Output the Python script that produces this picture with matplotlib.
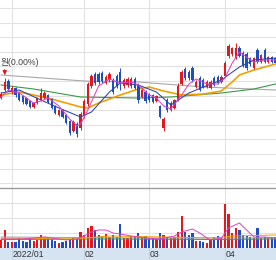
import numpy as np
import matplotlib.pyplot as plt

plt.rcParams['font.family'] = ['Liberation Sans Narrow', 'Liberation Sans', 'Noto Sans CJK KR']

# daily candles, 2021-12-28 .. 2022-04-21 (index = trading day)
opens = [47100, 47500, 47950, 47400, 47600, 47350, 47200, 47100, 46950, 46650,
         46850, 47000, 47100, 47250, 47050, 46700, 46250, 46500, 46250, 45950,
         45450, 45800, 45600, 46200, 46800, 47700, 48300, 48300, 48350, 47850,
         48000, 48000, 48200, 48400, 47700, 47750, 47700, 48050, 47750, 47150,
         47400, 47250, 47250, 46950, 46700, 45600, 47000, 46500, 46600, 47000,
         47800, 48550, 48400, 48600, 47650, 48100, 48000, 47650, 47600, 48100,
         48150, 47900, 48200, 49200, 49300, 49100, 49600, 49350, 49300, 49100,
         48600, 49500, 48900, 49500, 48900, 49150, 49100]
closes = [47300, 47900, 47550, 47600, 47250, 47000, 46900, 46800, 46650, 46850,
          47100, 47350, 47350, 46900, 46600, 46350, 46500, 46150, 45850, 45350,
          45900, 45300, 46300, 46950, 47800, 48200, 47850, 47900, 47950, 48150,
          48300, 47400, 47700, 47800, 48000, 48050, 48050, 47600, 47000, 47500,
          46950, 47000, 46900, 47200, 46150, 46050, 46500, 46850, 47000, 47700,
          48400, 48100, 48100, 48000, 47900, 47500, 47650, 47900, 47900, 47750,
          47850, 48150, 48850, 49700, 49600, 49600, 49200, 48750, 48600, 48800,
          49100, 48900, 49250, 48900, 49150, 48900, 48850]
highs = [47400, 48100, 48050, 47700, 47650, 47400, 47250, 47150, 47000, 46900,
         47150, 47600, 47450, 47300, 47100, 46750, 46550, 46550, 46300, 46000,
         46000, 45900, 46400, 47050, 47900, 48300, 48400, 48400, 48450, 48250,
         48400, 48100, 48300, 48600, 48100, 48150, 48150, 48150, 47850, 47600,
         47500, 47350, 47300, 47250, 46750, 46150, 47100, 46950, 47050, 47850,
         48500, 48650, 48500, 48700, 48000, 48200, 48100, 48000, 48000, 48200,
         48250, 48250, 48950, 49800, 49650, 49850, 49700, 49450, 49400, 49150,
         49150, 49600, 49300, 49600, 49200, 49200, 49150]
lows = [47050, 47400, 47450, 47300, 47150, 46950, 46800, 46750, 46600, 46600,
        46800, 46950, 47050, 46850, 46550, 46300, 46200, 46100, 45800, 45250,
        45400, 45150, 45500, 46100, 46700, 47600, 47750, 47800, 47850, 47800,
        47900, 47300, 47600, 47500, 47600, 47650, 47600, 47550, 46850, 47100,
        46850, 46900, 46850, 46900, 46100, 45450, 46400, 46450, 46550, 46950,
        47750, 48000, 48000, 47900, 47600, 47450, 47600, 47600, 47550, 47700,
        47800, 47850, 48150, 49100, 49200, 49050, 49150, 48650, 48500, 48700,
        48550, 48850, 48850, 48850, 48850, 48850, 48800]
volumes = [80000, 180000, 60000, 60000, 60000, 100000, 70000, 60000, 90000, 70000,
           80000, 130000, 100000, 100000, 90000, 70000, 50000, 60000, 70000, 90000,
           100000, 90000, 160000, 130000, 200000, 220000, 180000, 130000, 120000, 140000,
           110000, 130000, 110000, 240000, 100000, 100000, 120000, 110000, 150000, 110000,
           120000, 100000, 100000, 90000, 150000, 130000, 110000, 100000, 110000, 160000,
           320000, 160000, 130000, 150000, 70000, 70000, 60000, 50000, 80000, 110000,
           120000, 100000, 440000, 340000, 150000, 200000, 180000, 130000, 120000, 110000,
           100000, 200000, 100000, 110000, 100000, 100000, 110000]

# moving average lines: (day index, value)
ma5_idx = [0, 2, 5, 9, 11, 13, 16, 19, 21, 22, 24, 27, 30, 33, 36, 38, 41, 43, 45, 47,
           50, 52, 54, 57, 60, 62, 64, 66, 68, 70, 73, 76]
ma5 = [47150, 47500, 47350, 46850, 46950, 47100, 46700, 46050, 45700, 45800, 46500,
       47700, 48050, 47850, 47900, 47750, 47250, 47100, 46700, 46550, 47250, 47800,
       48050, 47800, 47800, 48100, 48850, 49400, 49150, 48900, 49000, 49000]
ma20_idx = [0, 5, 11, 16, 22, 25, 30, 33, 38, 43, 47, 52, 56, 61, 66, 70, 76]
ma20 = [47350, 47500, 47000, 46600, 46150, 46400, 47400, 47850, 47750, 47400, 46750,
        47350, 47650, 48000, 48650, 49000, 49100]
ma60_idx = [0, 5, 13, 22, 24, 27, 33, 38, 41, 45, 50, 56, 61, 64, 66, 70, 76]
ma60 = [47250, 47400, 47100, 46650, 46600, 46850, 47250, 47550, 47650, 47450, 47250,
        47300, 47450, 47900, 48250, 48500, 48800]
ma120_idx = [0, 9, 22, 38, 47, 61, 70, 76]
ma120 = [47750, 47550, 47150, 47100, 47150, 47350, 47550, 47800]
ma240_idx = [0, 23, 38, 56, 76]
ma240 = [48250, 47950, 47900, 47650, 47500]

vma5_idx = [0, 6, 12, 18, 21, 23, 25, 27, 29, 31, 33, 36, 40, 44, 48, 50, 53, 55, 57,
            58, 61, 63, 66, 68, 70, 73, 76]
vma5 = [90000, 90000, 110000, 80000, 90000, 120000, 160000, 180000, 180000, 150000,
        140000, 120000, 100000, 90000, 120000, 160000, 190000, 150000, 100000, 80000,
        100000, 200000, 250000, 180000, 110000, 110000, 100000]
vma20_idx = [0, 20, 30, 45, 60, 64, 76]
vma20 = [100000, 90000, 120000, 110000, 100000, 120000, 130000]
vma60_idx = [0, 30, 60, 76]
vma60 = [85000, 90000, 85000, 90000]
vma120_idx = [0, 40, 76]
vma120 = [110000, 100000, 100000]

month_idx = [3, 23, 41, 62]
month_labels = ['2022/01', '02', '03', '04']
high_mark = 1
high_text = '원(0.00%)'

UP = '#e3171d'
DOWN = '#1f4ec4'
GRID = '#e2e2e2'

x = np.arange(len(opens))
opens = np.array(opens)
closes = np.array(closes)
up = closes >= opens
colors = np.where(up, UP, DOWN)

fig = plt.figure(figsize=(2.76, 2.6), dpi=100)
ax = fig.add_axes([0, 0.2769, 1, 0.7231])
axv = fig.add_axes([0, 0.04615, 1, 0.2308])
axb = fig.add_axes([0, 0, 1, 0.04615])

xlim = (-0.32, 76.13)

# price panel
ax.set_xlim(*xlim)
ax.set_ylim(42600, 52000)
for g in np.arange(51600, 42600, -730):
    ax.axhline(g, color=GRID, lw=0.8, zorder=0)
for m in month_idx:
    ax.axvline(m, color=GRID, lw=0.8, zorder=0)

ax.plot(ma240_idx, ma240, color='#a8a8a8', lw=0.8, zorder=1)
ax.plot(ma120_idx, ma120, color='#3a9a48', lw=0.8, zorder=1)
ax.plot(ma60_idx, ma60, color='#f0a000', lw=1.2, zorder=1)

ax.vlines(x, lows, highs, colors=colors, lw=0.7, zorder=2)
ax.bar(x, closes - opens, bottom=opens, width=0.65, color=colors, zorder=2)

ax.plot(ma20_idx, ma20, color='#2a46a8', lw=0.75, zorder=3)
ax.plot(ma5_idx, ma5, color='#e040c8', lw=0.75, zorder=3)

ax.annotate('', xy=(high_mark, highs[high_mark]), xytext=(high_mark, highs[high_mark] + 560),
            arrowprops=dict(arrowstyle='-|>', color='#e3171d', lw=0.8, mutation_scale=6),
            zorder=4)
ax.text(-0.25, 48900, high_text, ha='left', va='center', fontsize=6.3, color='#444444')
ax.axis('off')

# volume panel
axv.set_xlim(*xlim)
axv.set_ylim(0, 600000)
for g in [150000, 300000, 450000]:
    axv.axhline(g, color=GRID, lw=0.8, zorder=0)
for m in month_idx:
    axv.axvline(m, color=GRID, lw=0.8, zorder=0)
axv.bar(x, volumes, width=0.62, color=colors, zorder=2)
axv.plot(vma120_idx, vma120, color='#a0a0a0', lw=0.7, zorder=3)
axv.plot(vma60_idx, vma60, color='#3a9a48', lw=0.7, zorder=3)
axv.plot(vma20_idx, vma20, color='#f0a000', lw=0.7, zorder=3)
axv.plot(vma5_idx, vma5, color='#e040c8', lw=0.7, zorder=3)
axv.set_xticks([])
axv.set_yticks([])
for s in ['left', 'right', 'bottom']:
    axv.spines[s].set_visible(False)
axv.spines['top'].set_color('#9a9a9a')
axv.spines['top'].set_linewidth(1.0)

# date band
axb.set_xlim(*xlim)
axb.set_ylim(0, 1)
axb.set_facecolor('#d6e3f1')
for m, lab in zip(month_idx, month_labels):
    axb.axvline(m, color='#c4d2e2', lw=0.8)
    axb.text(m + 0.25, 0.45, lab, ha='left', va='center', fontsize=6.2, color='#333333')
axb.set_xticks([])
axb.set_yticks([])
for s in axb.spines.values():
    s.set_visible(False)

fig.savefig('out.png', dpi=100)
